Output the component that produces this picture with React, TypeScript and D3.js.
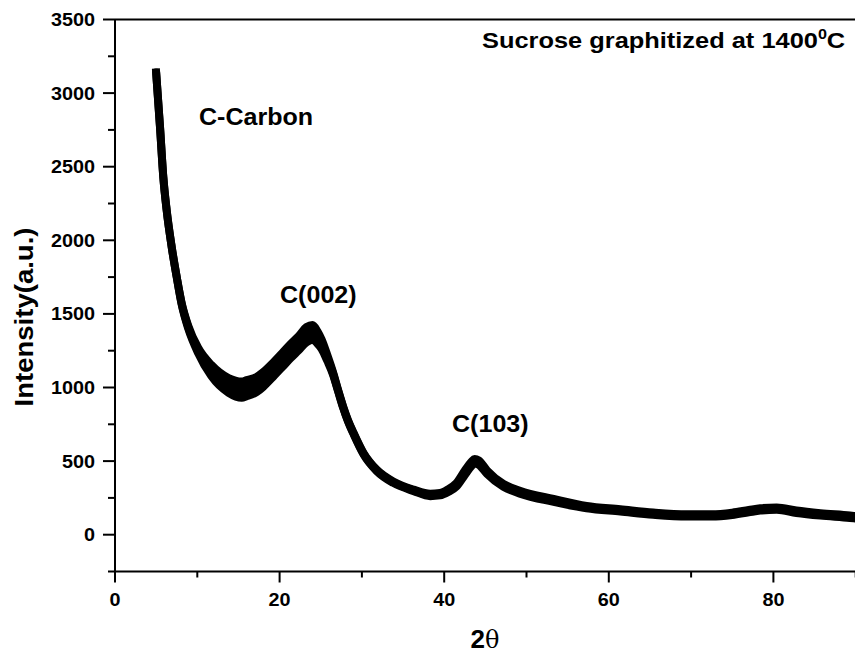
import React from "react";
import * as d3 from "d3";

const W = 855;
const H = 653;

// XRD pattern: 2θ (deg), mean intensity (a.u.) and half-width of the noisy band
const twoTheta = [
  5.0, 5.47, 5.87, 6.28, 6.89, 7.5, 8.1, 8.9, 10.1, 11.7, 13.8, 15.4, 16.0, 17.2, 18.0, 19.2,
  20.3, 21.3, 22.3, 23.3, 24.0, 24.6, 25.1, 25.8, 26.5, 27.1, 27.7, 28.3, 29.0, 30.2, 31.8,
  33.8, 36.3, 38.3, 39.5, 40.5, 41.5, 42.5, 43.3, 43.7, 44.2, 45.2, 47.2, 49.2, 53.3, 57.3,
  61.4, 65.4, 69.5, 72.5, 75.0, 77.0, 78.4, 80.4, 82.8, 85.7, 89.3, 90.0,
];
const intensity = [
  3140, 2769, 2429, 2203, 1954, 1750, 1569, 1410, 1252, 1116, 1014, 985, 995, 1020, 1054, 1120,
  1185, 1245, 1300, 1360, 1375, 1340, 1295, 1200, 1094, 980, 870, 775, 686, 550, 437,
  357, 301, 270, 275, 300, 340, 420, 480, 500, 490, 425, 335, 289, 233, 187,
  165, 143, 131, 131, 142, 160, 172, 177, 156, 138, 122, 118,
];
const spread = [
  0, 0, 0, 0, 0, 0, 5, 10, 18, 38, 50, 55, 55, 52, 50, 48,
  48, 48, 48, 52, 50, 42, 32, 20, 8, 5, 5, 5, 5, 5, 5,
  5, 5, 8, 8, 10, 12, 15, 15, 15, 15, 12, 10, 10, 10, 8,
  8, 8, 8, 8, 8, 8, 8, 8, 8, 8, 8, 8,
];

const xTicks = [0, 20, 40, 60, 80];
const xMinorTicks = [10, 30, 50, 70, 90];
const yTicks = [0, 500, 1000, 1500, 2000, 2500, 3000, 3500];
const yMinorTicks = [-250, 250, 750, 1250, 1750, 2250, 2750, 3250];

const title = "Sucrose graphitized at 1400";
const xLabel = "2";
const yLabel = "Intensity(a.u.)";
const peakLabels = [
  { text: "C-Carbon", x: 199, y: 125, sx: 1.09 },
  { text: "C(002)", x: 280, y: 303, sx: 1.09 },
  { text: "C(103)", x: 452, y: 432, sx: 1.09 },
];

const FONT = "'Liberation Sans', Arial, Helvetica, sans-serif";

type P = { t: number; v: number; s: number };

export default function App() {
  const x = d3.scaleLinear().domain([0, 90]).range([115, 855.7]);
  const y = d3.scaleLinear().domain([-250, 3500]).range([571.5, 19.5]);

  const pts: P[] = twoTheta.map((t, i) => ({ t, v: intensity[i], s: spread[i] }));
  const line = d3
    .line<P>()
    .x((d) => x(d.t))
    .y((d) => y(d.v))
    .curve(d3.curveMonotoneX);
  const band = d3
    .area<P>()
    .x((d) => x(d.t))
    .y0((d) => y(d.v - d.s))
    .y1((d) => y(d.v + d.s))
    .curve(d3.curveMonotoneX);

  const x0 = x(0);
  const yb = y(-250);
  const yt = y(3500);

  return (
    <svg
      width={W}
      height={H}
      style={{ position: "absolute", left: 0, top: 0, background: "#fff" }}
      fontFamily={FONT}
    >
      <rect x={0} y={0} width={W} height={H} fill="#fff" />
      {/* curve */}
      <path d={band(pts) || ""} fill="#000" stroke="#000" strokeWidth={8} strokeLinejoin="round" />
      <path
        d={line(pts) || ""}
        fill="none"
        stroke="#000"
        strokeWidth={8}
        strokeLinejoin="round"
        strokeLinecap="square"
      />
      {/* frame */}
      <line x1={x0} x2={W + 2} y1={yt} y2={yt} stroke="#000" strokeWidth={2} />
      <line x1={x0} x2={W + 2} y1={yb} y2={yb} stroke="#000" strokeWidth={2} />
      <line x1={x0} x2={x0} y1={yt} y2={yb} stroke="#000" strokeWidth={2} />

      {/* y ticks */}
      {yTicks.map((v) => (
        <g key={"y" + v}>
          <line x1={x0 - 12} x2={x0} y1={y(v)} y2={y(v)} stroke="#000" strokeWidth={2} />
          <text
            transform={`translate(95,${y(v) + 6.5}) scale(1.1,1)`}
            textAnchor="end"
            fontSize={18}
            fontWeight="bold"
          >
            {v}
          </text>
        </g>
      ))}
      {yMinorTicks.map((v) => (
        <line key={"ym" + v} x1={x0 - 7} x2={x0} y1={y(v)} y2={y(v)} stroke="#000" strokeWidth={2} />
      ))}

      {/* x ticks */}
      {xTicks.map((v) => (
        <g key={"x" + v}>
          <line x1={x(v)} x2={x(v)} y1={yb} y2={yb + 11} stroke="#000" strokeWidth={2} />
          <text
            transform={`translate(${x(v)},${yb + 34}) scale(1.1,1)`}
            textAnchor="middle"
            fontSize={18}
            fontWeight="bold"
          >
            {v}
          </text>
        </g>
      ))}
      {xMinorTicks.map((v) => (
        <line key={"xm" + v} x1={x(v)} x2={x(v)} y1={yb} y2={yb + 6} stroke="#000" strokeWidth={2} />
      ))}

      {/* axis titles */}
      <text
        transform={`translate(33,317) rotate(-90)`}
        textAnchor="middle"
        fontSize={26}
        fontWeight="bold"
        textLength={179}
        lengthAdjust="spacingAndGlyphs"
      >
        {yLabel}
      </text>
      <text x={485} y={648} textAnchor="middle" fontSize={26} fontWeight="bold">
        {xLabel}
        <tspan fontFamily="'DejaVu Serif', 'Liberation Serif', serif" fontWeight="normal" fontSize={24}>
          θ
        </tspan>
      </text>

      {/* title */}
      <text transform={`translate(482,48) scale(1.155,1)`} fontSize={22} fontWeight="bold">
        {title}
        <tspan dy={-9} fontSize={14}>0</tspan>
        <tspan dy={9}>C</tspan>
      </text>

      {/* peak labels */}
      {peakLabels.map((p) => (
        <text
          key={p.text}
          transform={`translate(${p.x},${p.y}) scale(${p.sx},1)`}
          fontSize={23}
          fontWeight="bold"
        >
          {p.text}
        </text>
      ))}
    </svg>
  );
}
